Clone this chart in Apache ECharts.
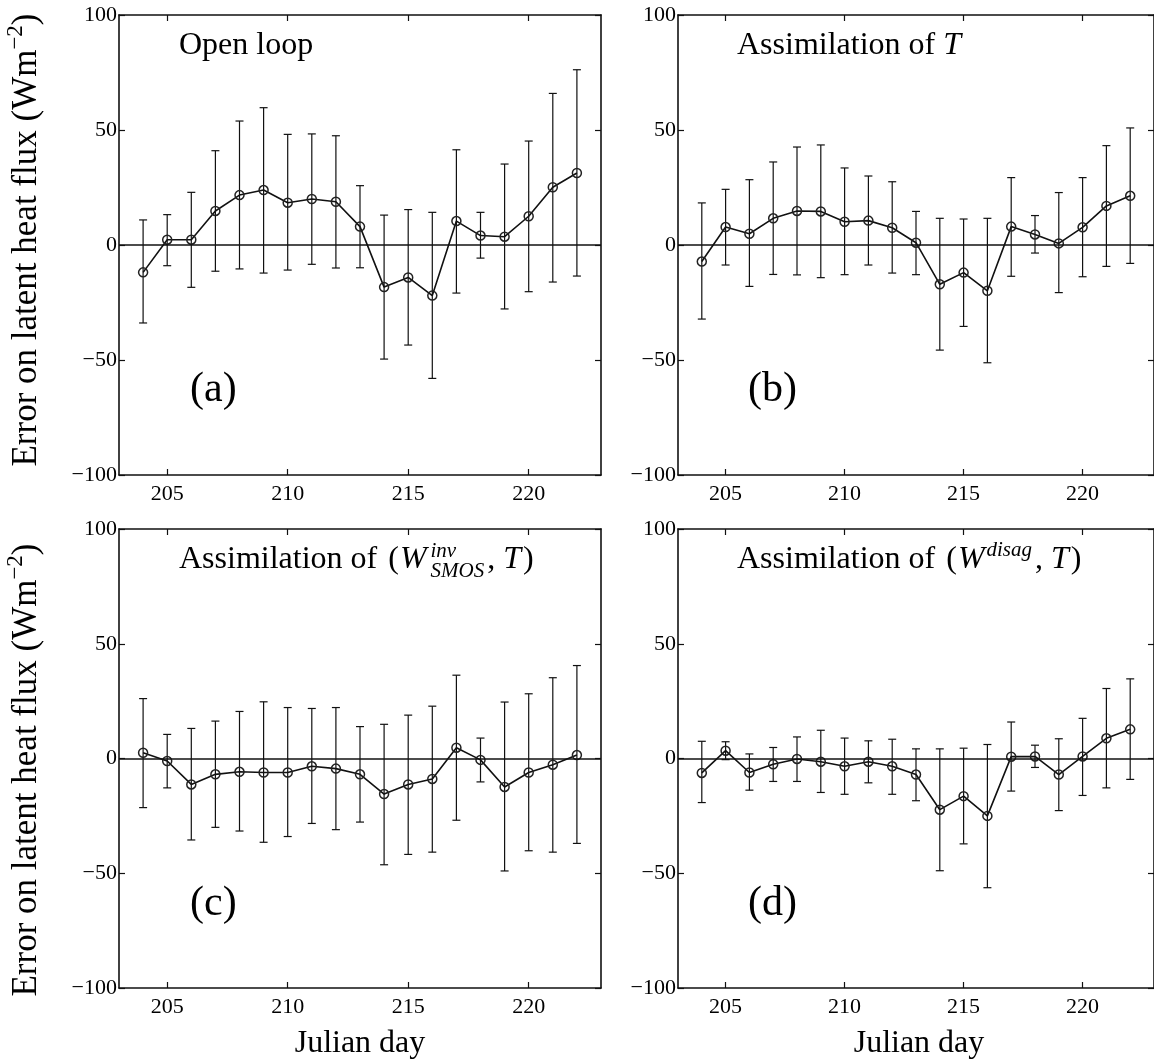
<!DOCTYPE html>
<html>
<head>
<meta charset="utf-8">
<script src="https://cdn.jsdelivr.net/npm/echarts@6/dist/echarts.min.js"></script>
<style>
  html, body { margin: 0; padding: 0; background: #fff; }
  #chart { width: 1154px; height: 1064px; }
</style>
</head>
<body>
<div id="chart"></div>
<script>
// Julian days and tick labels
const days = [204, 205, 206, 207, 208, 209, 210, 211, 212, 213, 214, 215, 216, 217, 218, 219, 220, 221, 222];
const xTicks = [205, 210, 215, 220];

// (a) Open loop
const openLoopMean  = [-11.9, 2.3, 2.3, 14.8, 21.7, 23.9, 18.4, 20.0, 18.8, 8.0, -18.3, -14.1, -22.0, 10.4, 4.1, 3.6, 12.5, 25.1, 31.3];
const openLoopUpper = [10.9, 13.2, 22.9, 41.0, 53.9, 59.7, 48.1, 48.3, 47.5, 25.8, 13.0, 15.4, 14.2, 41.4, 14.2, 35.2, 45.2, 65.9, 76.2];
const openLoopLower = [-33.9, -9.0, -18.4, -11.4, -10.4, -12.2, -10.9, -8.4, -10.0, -9.9, -49.6, -43.5, -58.0, -20.9, -5.7, -27.8, -20.3, -16.1, -13.5];

// (b) Assimilation of T
const assimTMean  = [-7.2, 7.8, 4.9, 11.6, 14.8, 14.6, 10.1, 10.6, 7.5, 1.0, -17.1, -12.0, -19.9, 8.0, 4.6, 0.7, 7.7, 17.0, 21.4];
const assimTUpper = [18.3, 24.2, 28.4, 36.1, 42.6, 43.5, 33.5, 30.0, 27.5, 14.6, 11.6, 11.3, 11.6, 29.3, 12.8, 22.8, 29.3, 43.2, 50.9];
const assimTLower = [-32.2, -8.7, -18.0, -12.8, -13.0, -14.2, -12.9, -8.7, -12.2, -12.9, -45.7, -35.4, -51.2, -13.6, -3.5, -20.7, -13.8, -9.3, -8.0];

// (c) Assimilation of (W_SMOS^inv, T)
const smosMean  = [2.5, -1.1, -11.3, -6.9, -5.8, -6.1, -6.1, -3.4, -4.4, -6.9, -15.5, -11.3, -8.9, 4.7, -0.6, -12.4, -6.1, -2.7, 1.5];
const smosUpper = [26.1, 10.5, 13.1, 16.3, 20.5, 24.7, 22.2, 21.8, 22.2, 13.9, 14.9, 18.9, 22.8, 36.3, 8.9, 24.6, 28.2, 35.2, 40.5];
const smosLower = [-21.4, -12.8, -35.5, -30.0, -31.6, -36.5, -34.0, -28.3, -31.0, -27.7, -46.3, -41.8, -40.8, -26.9, -10.2, -49.0, -40.2, -40.8, -37.0];

// (d) Assimilation of (W^disag, T)
const disagMean  = [-6.3, 3.4, -6.1, -2.5, -0.2, -1.4, -3.4, -1.4, -3.4, -7.0, -22.3, -16.4, -25.0, 0.8, 0.9, -7.0, 0.9, 8.8, 12.7];
const disagUpper = [7.5, 7.3, 2.0, 4.8, 9.4, 12.3, 8.9, 7.7, 8.4, 4.2, 4.2, 4.5, 6.1, 15.9, 5.8, 8.6, 17.5, 30.5, 34.7];
const disagLower = [-19.2, -0.5, -13.8, -10.0, -10.0, -14.8, -15.6, -10.6, -15.6, -18.4, -48.9, -37.2, -56.3, -14.2, -3.9, -22.7, -16.1, -12.8, -9.1];

const FONT = '"Liberation Serif", "DejaVu Serif", serif';
const INK = '#111';

const panels = [
  { mean: openLoopMean, upper: openLoopUpper, lower: openLoopLower, left: 119, top: 15, height: 460 },
  { mean: assimTMean, upper: assimTUpper, lower: assimTLower, left: 678, top: 15, height: 460 },
  { mean: smosMean, upper: smosUpper, lower: smosLower, left: 119, top: 529, height: 459 },
  { mean: disagMean, upper: disagUpper, lower: disagLower, left: 678, top: 529, height: 459 }
];

function renderErrorBar(params, api) {
  const x = api.value(0);
  const lo = api.coord([x, api.value(1)]);
  const hi = api.coord([x, api.value(2)]);
  const w = 4;
  const style = { stroke: INK, lineWidth: 1.2, fill: null };
  return {
    type: 'group',
    children: [
      { type: 'line', shape: { x1: lo[0], y1: lo[1], x2: hi[0], y2: hi[1] }, style },
      { type: 'line', shape: { x1: hi[0] - w, y1: hi[1], x2: hi[0] + w, y2: hi[1] }, style },
      { type: 'line', shape: { x1: lo[0] - w, y1: lo[1], x2: lo[0] + w, y2: lo[1] }, style }
    ]
  };
}

// text width helper for the hand-set math titles
const measureCtx = document.createElement('canvas').getContext('2d');
function textWidth(t, font) {
  measureCtx.font = font;
  return measureCtx.measureText(t).width;
}
function mathText(x, y, parts) {
  const out = [];
  let cx = x, held = 0;
  parts.forEach(p => {
    const font = (p.italic ? 'italic ' : '') + p.size + 'px ' + FONT;
    out.push({
      type: 'text', x: cx, y: y + (p.dy || 0), silent: true,
      style: { text: p.t, font: font, fill: '#000', textAlign: 'left', textVerticalAlign: 'middle', verticalAlign: 'middle' }
    });
    const w = textWidth(p.t, font);
    if (p.hold) {
      held = w;
    } else {
      cx += Math.max(w, held) + (p.pad || 0);
      held = 0;
    }
  });
  return out;
}

const grid = [], xAxis = [], yAxis = [], series = [];
const axisLineStyle = { color: INK, width: 1.6 };

panels.forEach((p, i) => {
  grid.push({ left: p.left, top: p.top, width: 482, height: p.height, containLabel: false });
  ['bottom', 'top'].forEach((pos, k) => {
    xAxis.push({
      type: 'value', gridIndex: i, position: pos, min: 203, max: 223,
      axisLine: { show: true, onZero: false, lineStyle: axisLineStyle },
      axisTick: { show: true, inside: true, length: 6, customValues: xTicks, lineStyle: { color: INK, width: 1.2 } },
      axisLabel: { show: k === 0, customValues: xTicks, margin: 8, color: '#000', fontSize: 22, fontFamily: FONT },
      splitLine: { show: false }
    });
  });
  ['left', 'right'].forEach((pos, k) => {
    yAxis.push({
      type: 'value', gridIndex: i, position: pos, min: -100, max: 100, interval: 50,
      axisLine: { show: true, onZero: false, lineStyle: axisLineStyle },
      axisTick: { show: true, inside: true, length: 6, lineStyle: { color: INK, width: 1.2 } },
      axisLabel: {
        show: k === 0, margin: 2, color: '#000', fontSize: 22, fontFamily: FONT,
        formatter: v => String(v).replace('-', '\u2212')
      },
      splitLine: { show: false }
    });
  });
  series.push({
    type: 'custom', xAxisIndex: 2 * i, yAxisIndex: 2 * i, silent: true, z: 2,
    renderItem: renderErrorBar,
    encode: { x: 0, y: [1, 2] },
    data: days.map((d, j) => [d, p.lower[j], p.upper[j]])
  });
  series.push({
    type: 'line', xAxisIndex: 2 * i, yAxisIndex: 2 * i, silent: true, z: 3,
    data: days.map((d, j) => [d, p.mean[j]]),
    symbol: 'circle', symbolSize: 9,
    itemStyle: { color: 'rgba(255,255,255,0)', borderColor: '#222', borderWidth: 1.5 },
    lineStyle: { color: INK, width: 1.6 },
    markLine: {
      silent: true, symbol: 'none', label: { show: false },
      lineStyle: { color: INK, width: 1.5, type: 'solid' },
      data: [{ yAxis: 0 }]
    }
  });
});

const T32 = 32, S21 = 21;
const graphic = []
  .concat(mathText(179, 46, [{ t: 'Open loop', size: T32 }]))
  .concat(mathText(737, 46, [{ t: 'Assimilation of ', size: T32 }, { t: 'T', size: T32, italic: true }]))
  .concat(mathText(179, 560, [
    { t: 'Assimilation of ', size: T32, pad: 3 },
    { t: '(', size: T32, pad: 1 },
    { t: 'W', size: T32, italic: true, pad: 4 },
    { t: 'inv', size: S21, italic: true, dy: -9, hold: true },
    { t: 'SMOS', size: S21, italic: true, dy: 11, pad: 3 },
    { t: ', ', size: T32 },
    { t: 'T', size: T32, italic: true, pad: 2 },
    { t: ')', size: T32 }
  ]))
  .concat(mathText(737, 560, [
    { t: 'Assimilation of ', size: T32, pad: 3 },
    { t: '(', size: T32, pad: 1 },
    { t: 'W', size: T32, italic: true, pad: 2 },
    { t: 'disag', size: S21, italic: true, dy: -10, pad: 3 },
    { t: ', ', size: T32 },
    { t: 'T', size: T32, italic: true, pad: 2 },
    { t: ')', size: T32 }
  ]))
  .concat(mathText(190, 390, [{ t: '(a)', size: 42 }]))
  .concat(mathText(748, 390, [{ t: '(b)', size: 42 }]))
  .concat(mathText(190, 904, [{ t: '(c)', size: 42 }]))
  .concat(mathText(748, 904, [{ t: '(d)', size: 42 }]));

[240, 770].forEach(cy => {
  graphic.push({
    type: 'text', x: 27, y: cy, rotation: Math.PI / 2, silent: true,
    style: {
      text: '{m|Error on latent heat flux (Wm}{s|\u22122}{m|)}',
      textAlign: 'center', textVerticalAlign: 'middle', verticalAlign: 'middle',
      rich: {
        m: { fontSize: 35, fontFamily: FONT, lineHeight: 46, fill: '#000', color: '#000' },
        s: { fontSize: 23, fontFamily: FONT, lineHeight: 23, verticalAlign: 'top', fill: '#000', color: '#000' }
      }
    }
  });
});
[360, 919].forEach(cx => {
  graphic.push({
    type: 'text', x: cx, y: 1044, silent: true,
    style: { text: 'Julian day', font: '32px ' + FONT, fill: '#000', textAlign: 'center', textVerticalAlign: 'middle', verticalAlign: 'middle' }
  });
});

const chart = echarts.init(document.getElementById('chart'));
chart.setOption({
  animation: false,
  backgroundColor: '#fff',
  grid: grid,
  xAxis: xAxis,
  yAxis: yAxis,
  series: series,
  graphic: graphic
});
</script>
</body>
</html>
